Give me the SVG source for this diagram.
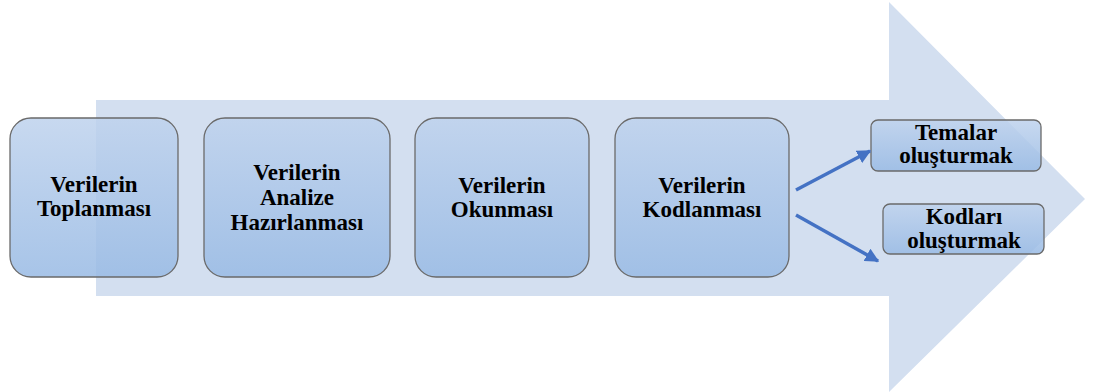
<svg xmlns="http://www.w3.org/2000/svg" width="1096" height="392" viewBox="0 0 1096 392">
<defs>
<linearGradient id="g" x1="0" y1="0" x2="0" y2="1">
<stop offset="0" stop-color="#bed2ed"/>
<stop offset="1" stop-color="#98bae4"/>
</linearGradient>
<marker id="ah" viewBox="0 0 10 10" refX="9" refY="5" markerWidth="4" markerHeight="4" markerUnits="strokeWidth" orient="auto">
<path d="M0,0 L10,5 L0,10 z" fill="#4472c4"/>
</marker>
</defs>
<rect width="1096" height="392" fill="#fff"/>
<path id="bigarrow" d="M96,100 L889,100 L889,2 L1085,199 L889,392 L889,296 L96,296 Z" fill="#d3dff0"/>
<g id="n1"><rect fill="url(#g)" fill-opacity="0.85" stroke="#6a6a6a" stroke-width="1.3" x="10" y="118" width="168" height="159" rx="21"/>
<text font-family="Liberation Serif" font-weight="bold" font-size="23" text-anchor="middle" x="94" y="192">Verilerin</text>
<text font-family="Liberation Serif" font-weight="bold" font-size="23" text-anchor="middle" x="94" y="216">Toplanması</text></g>
<g id="n2"><rect fill="url(#g)" fill-opacity="0.85" stroke="#6a6a6a" stroke-width="1.3" x="204" y="118" width="186" height="159" rx="21"/>
<text font-family="Liberation Serif" font-weight="bold" font-size="23" text-anchor="middle" x="297" y="180">Verilerin</text>
<text font-family="Liberation Serif" font-weight="bold" font-size="23" text-anchor="middle" x="297" y="205">Analize</text>
<text font-family="Liberation Serif" font-weight="bold" font-size="23" text-anchor="middle" x="297" y="230">Hazırlanması</text></g>
<g id="n3"><rect fill="url(#g)" fill-opacity="0.85" stroke="#6a6a6a" stroke-width="1.3" x="415" y="118" width="174" height="159" rx="21"/>
<text font-family="Liberation Serif" font-weight="bold" font-size="23" text-anchor="middle" x="502" y="193">Verilerin</text>
<text font-family="Liberation Serif" font-weight="bold" font-size="23" text-anchor="middle" x="502" y="217">Okunması</text></g>
<g id="n4"><rect fill="url(#g)" fill-opacity="0.85" stroke="#6a6a6a" stroke-width="1.3" x="615" y="118" width="174" height="159" rx="21"/>
<text font-family="Liberation Serif" font-weight="bold" font-size="23" text-anchor="middle" x="702" y="193">Verilerin</text>
<text font-family="Liberation Serif" font-weight="bold" font-size="23" text-anchor="middle" x="702" y="217">Kodlanması</text></g>
<g id="n5"><rect fill="url(#g)" fill-opacity="0.85" stroke="#6a6a6a" stroke-width="1.3" x="871" y="120" width="170" height="51" rx="7"/>
<text font-family="Liberation Serif" font-weight="bold" font-size="23" text-anchor="middle" x="956" y="140">Temalar</text>
<text font-family="Liberation Serif" font-weight="bold" font-size="23" text-anchor="middle" x="956" y="163">oluşturmak</text></g>
<g id="n6"><rect fill="url(#g)" fill-opacity="0.85" stroke="#6a6a6a" stroke-width="1.3" x="883" y="204" width="161" height="50" rx="7"/>
<text font-family="Liberation Serif" font-weight="bold" font-size="23" text-anchor="middle" x="964" y="224">Kodları</text>
<text font-family="Liberation Serif" font-weight="bold" font-size="23" text-anchor="middle" x="964" y="248">oluşturmak</text></g>
<g id="connectors" stroke="#4472c4" stroke-width="3.5" fill="none" marker-end="url(#ah)">
<line x1="796" y1="190" x2="870" y2="151"/>
<line x1="796" y1="215" x2="878" y2="261"/>
</g>
</svg>
